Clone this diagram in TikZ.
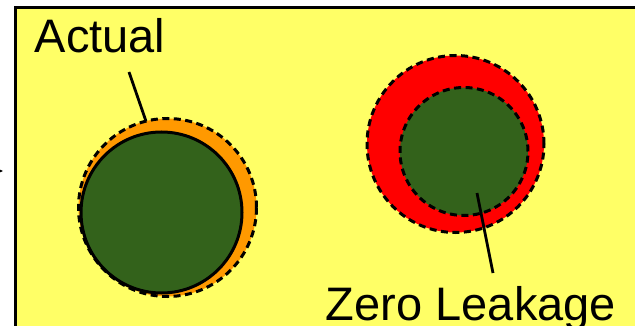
\documentclass[tikz,border=0pt]{standalone}
\usepackage{fontspec}
\setmainfont{Liberation Sans}
\usetikzlibrary{arrows.meta}
\definecolor{lkyellow}{HTML}{FFFF66}
\definecolor{lkorange}{HTML}{FF9900}
\definecolor{lkred}{HTML}{FF0000}
\definecolor{lkgreen}{HTML}{33621B}

\begin{document}
\begin{tikzpicture}[
  x=1pt, y=-1pt,
  disc/.style={circle, inner sep=0pt, outer sep=0pt},
  hull/.style={disc, draw=black, line width=3pt, dash pattern=on 7pt off 4.5pt},
  core/.style={disc, fill=lkgreen, draw=black, line width=3pt},
  label/.style={font=\fontsize{47}{50}\selectfont, inner sep=0pt, anchor=base},
  leader/.style={draw=black, line width=2.8pt}
]
\useasboundingbox (0,0) rectangle (635,326);
\fill[lkyellow] (15,8) rectangle (645,340);
\draw[line width=3pt] (645,8) -- (15,8) -- (15,340);
\draw[-{Latex[length=5pt,width=6pt]}, line width=1.2pt] (-20,171) -- (3,171);

% left: actual
\node[disc, fill=lkorange, minimum size=178pt] (actualfill) at (167.5,207.5) {};
\node[core, minimum size=161pt] (actualcore) at (161.5,212.5) {};
\node[hull, minimum size=178pt] (actualhull) at (167.5,207.5) {};
\node[label] (actual) at (100,53) {Actual};
\coordinate (actualtip) at (129,72);
\draw[leader] (actualtip) -- (actualhull.104);

% right: zero leakage
\node[hull, fill=lkred, minimum size=177pt] (zerohull) at (455.5,144) {};
\node[hull, fill=lkgreen, minimum size=128pt] (zerocore) at (464,151.5) {};
\node[label] (zero) at (471,320) {Zero Leakage};
\coordinate (zerotip) at (477,193);
\coordinate (zeroend) at (493,273);
\draw[leader] (zerotip) -- (zeroend);
\end{tikzpicture}
\end{document}
